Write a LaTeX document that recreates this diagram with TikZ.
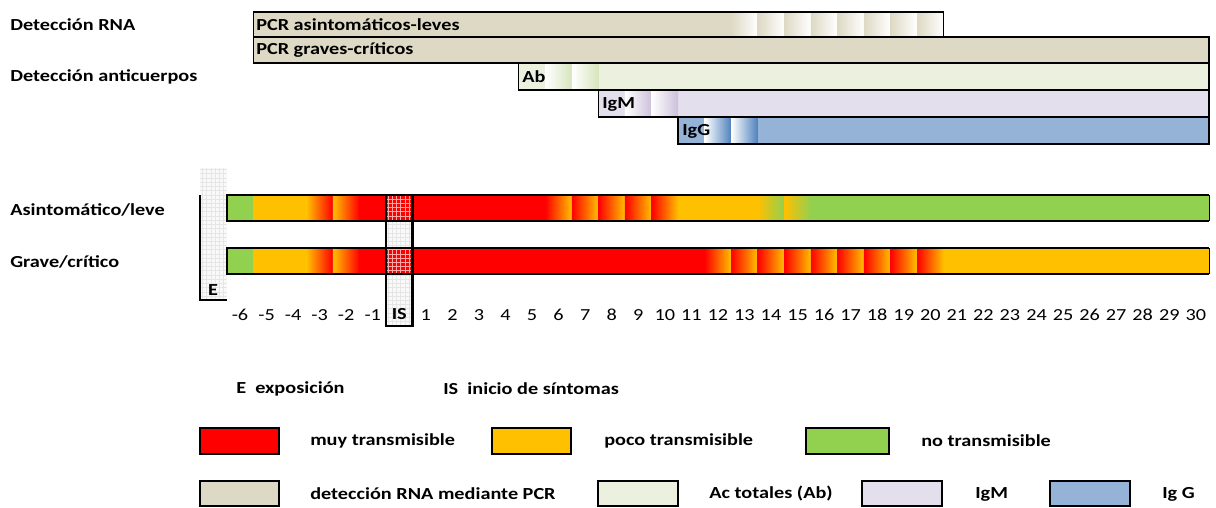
\documentclass[tikz,border=0pt]{standalone}
\usepackage{fontspec}
\setmainfont{Carlito}[FakeStretch=1.2]
\usepackage{tikz}
\usetikzlibrary{patterns}

\definecolor{Rojo}{HTML}{FF0000}
\definecolor{Naranja}{HTML}{FFC000}
\definecolor{Verde}{HTML}{92D050}
\definecolor{PCRtan}{HTML}{DDD9C4}
\definecolor{AbGreen}{HTML}{EBF1DE}
\definecolor{AbDark}{HTML}{D7E4BD}
\definecolor{IgMlila}{HTML}{E4DFEC}
\definecolor{IgMdark}{HTML}{CCC0DA}
\definecolor{IgGblue}{HTML}{95B3D7}
\definecolor{IgGdark}{HTML}{4F81BD}

% left edge of the column of day #1 (in px)
\newcommand{\dayx}[1]{399.3+(#1-0.5)*26.55}

\begin{document}
\begin{tikzpicture}[x=0.025cm, y=-0.025cm,
    font=\fontsize{12}{14}\selectfont\bfseries,
    lbl/.style={anchor=west, inner sep=0pt},
    bar/.style={draw=black, line width=1pt},
    fila/.style={draw=black, line width=1.6pt},
    legbox/.style={draw=black, line width=1.2pt},
    tick/.style={font=\fontsize{12}{14}\selectfont, inner sep=0pt}]
    \useasboundingbox (0,0) rectangle (1216,507);

    % Detección RNA
    \node[lbl] (rna) at (10,25) {Detección RNA};
    \fill[PCRtan] ({\dayx{-5}},12) rectangle ({\dayx{21}},37);
    \foreach \d in {13,...,20}
        \shade[left color=PCRtan, right color=white] ({\dayx{\d}},12) rectangle ++(26.55,25);
    \draw[bar] ({\dayx{-5}},12) rectangle ({\dayx{21}},37);
    \node[lbl] (pcrleve) at (256,25) {PCR asintomáticos-leves};
    \draw[bar, fill=PCRtan] ({\dayx{-5}},37) rectangle ({\dayx{31}},63);
    \node[lbl] (pcrgrave) at (256,50) {PCR graves-críticos};

    % Detección anticuerpos
    \node[lbl] (anti) at (10,77) {Detección anticuerpos};
    \fill[AbGreen] ({\dayx{5}},63) rectangle ({\dayx{31}},90);
    \foreach \d in {6,7}
        \shade[left color=white, right color=AbDark] ({\dayx{\d}},63) rectangle ++(26.55,27);
    \draw[bar] ({\dayx{5}},63) rectangle ({\dayx{31}},90);
    \node[lbl] (ab) at (522,77) {Ab};

    \fill[IgMlila] ({\dayx{8}},90) rectangle ({\dayx{31}},117);
    \foreach \d in {9,10}
        \shade[left color=white, right color=IgMdark] ({\dayx{\d}},90) rectangle ++(26.55,27);
    \draw[bar] ({\dayx{8}},90) rectangle ({\dayx{31}},117);
    \node[lbl] (igm) at (602,104) {IgM};

    \fill[IgGblue] ({\dayx{11}},117) rectangle ({\dayx{31}},144);
    \foreach \d in {12,13}
        \shade[left color=white, right color=IgGdark] ({\dayx{\d}},117) rectangle ++(26.55,27);
    \draw[bar] ({\dayx{11}},117) rectangle ({\dayx{31}},144);
    \node[lbl] (igg) at (682,131) {IgG};

    % columnas E e IS
    \fill[gray!5] ({\dayx{-7}},168) rectangle ({\dayx{-6}},300);
    \fill[pattern=grid, pattern color=gray!20] ({\dayx{-7}},168) rectangle ({\dayx{-6}},300);
    \fill[gray!5] ({\dayx{0}},195) rectangle ({\dayx{1}},326);
    \fill[pattern=grid, pattern color=gray!20] ({\dayx{0}},195) rectangle ({\dayx{1}},326);

    % Asintomático/leve
    \node[lbl] (leve) at (10,210) {Asintomático/leve};
    \begin{scope}[shift={(0,195)}]
        \fill[Verde] ({\dayx{-6}},0) rectangle ({\dayx{-5}},26);
        \fill[Naranja] ({\dayx{-5}},0) rectangle ({\dayx{-3}},26);
        \foreach \d in {-3,-2}
            \shade[left color=Naranja, right color=Rojo] ({\dayx{\d}},0) rectangle ++(26.55,26);
        \fill[Rojo] ({\dayx{-1}},0) rectangle ({\dayx{6}},26);
        \foreach \d in {6,...,10}
            \shade[left color=Rojo, right color=Naranja] ({\dayx{\d}},0) rectangle ++(26.55,26);
        \fill[Naranja] ({\dayx{11}},0) rectangle ({\dayx{14}},26);
        \foreach \d in {14,15}
            \shade[left color=Naranja, right color=Verde] ({\dayx{\d}},0) rectangle ++(26.55,26);
        \fill[Verde] ({\dayx{16}},0) rectangle ({\dayx{31}},26);
        \fill[pattern=grid, pattern color=red!35!white] ({\dayx{0}},0) rectangle ({\dayx{1}},26);
        \draw[fila] ({\dayx{31}},0) -- ({\dayx{-6}},0) -- ({\dayx{-6}},26) -- ({\dayx{31}},26);
        \draw[line width=0.6pt] ({\dayx{31}},0) -- ({\dayx{31}},26);
    \end{scope}

    % Grave/crítico
    \node[lbl] (grave) at (10,262) {Grave/crítico};
    \begin{scope}[shift={(0,248)}]
        \fill[Verde] ({\dayx{-6}},0) rectangle ({\dayx{-5}},26);
        \fill[Naranja] ({\dayx{-5}},0) rectangle ({\dayx{-3}},26);
        \foreach \d in {-3,-2}
            \shade[left color=Naranja, right color=Rojo] ({\dayx{\d}},0) rectangle ++(26.55,26);
        \fill[Rojo] ({\dayx{-1}},0) rectangle ({\dayx{12}},26);
        \foreach \d in {12,...,20}
            \shade[left color=Rojo, right color=Naranja] ({\dayx{\d}},0) rectangle ++(26.55,26);
        \fill[Naranja] ({\dayx{21}},0) rectangle ({\dayx{31}},26);
        \fill[pattern=grid, pattern color=red!35!white] ({\dayx{0}},0) rectangle ({\dayx{1}},26);
        \draw[fila] ({\dayx{31}},0) -- ({\dayx{-6}},0) -- ({\dayx{-6}},26) -- ({\dayx{31}},26);
        \draw[line width=0.6pt] ({\dayx{31}},0) -- ({\dayx{31}},26);
    \end{scope}

    % bordes E e IS
    \draw[fila] ({\dayx{-7}},195) -- ({\dayx{-7}},300) -- ({\dayx{-6}},300);
    \node (e) at (213,290) {E};
    \draw[fila] ({\dayx{0}},195) -- ({\dayx{0}},326) -- ({\dayx{1}},326) -- ({\dayx{1}},195);
    \node (is) at (399.3,314) {IS};

    % días
    \foreach \d in {-6,...,-1,1,2,...,30}
        \node[tick] (d\d) at ({399.3+\d*26.55},315) {\d};

    % leyenda
    \node[lbl] (lege) at (236,389) {E\ \ exposición};
    \node[lbl] (legis) at (443,389) {IS\ \ inicio de síntomas};

    \draw[legbox, fill=Rojo] (200,428) rectangle (279,454);
    \node[lbl] (muy) at (310,441) {muy transmisible};
    \draw[legbox, fill=Naranja] (492,428) rectangle (571,454);
    \node[lbl] (poco) at (604,441) {poco transmisible};
    \draw[legbox, fill=Verde] (806,428) rectangle (889,454);
    \node[lbl] (no) at (921,441) {no transmisible};

    \draw[legbox, fill=PCRtan] (200,481) rectangle (279,506);
    \node[lbl] (legpcr) at (310,494) {detección RNA mediante PCR};
    \draw[legbox, fill=AbGreen] (598,481) rectangle (678,506);
    \node[lbl] (legab) at (709,494) {Ac totales (Ab)};
    \draw[legbox, fill=IgMlila] (862,481) rectangle (942,506);
    \node[lbl] (legigm) at (975,494) {IgM};
    \draw[legbox, fill=IgGblue] (1050,481) rectangle (1130,506);
    \node[lbl] (legigg) at (1162,494) {Ig G};
\end{tikzpicture}
\end{document}
